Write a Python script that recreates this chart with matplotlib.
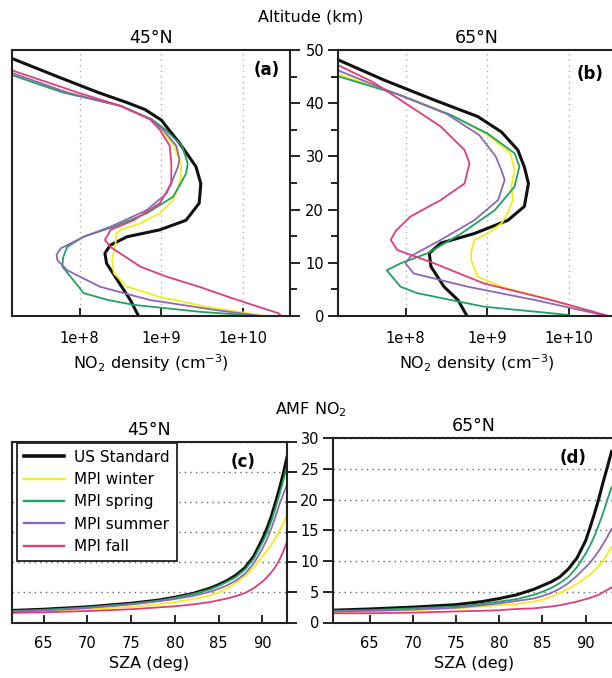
import numpy as np
import matplotlib
matplotlib.use("Agg")
import matplotlib.pyplot as plt
from matplotlib.ticker import MultipleLocator

plt.rcParams['font.family'] = ['DejaVu Sans']

# ---- NO2 profiles: altitude (km) and log10 density (cm-3) ----
# 45N
a_us_alt = [50, 48.2, 45, 42, 40, 38.8, 36.8, 35, 32.5, 28.1, 24.9, 21.2, 18, 16.2, 14.9, 13.3, 11.8, 9.9, 6.8, 3, 0]
a_us_log = [6.91, 7.21, 7.73, 8.23, 8.6, 8.8, 9.0, 9.09, 9.22, 9.42, 9.48, 9.46, 9.30, 8.98, 8.58, 8.375, 8.31, 8.33, 8.46, 8.62, 8.72]
a_win_alt = [50, 45.3, 42, 39.5, 37, 35, 32, 28.5, 26, 24, 21.8, 19.3, 17.4, 16.2, 15.5, 13.7, 10.5, 8, 5.5, 3.6, 1.75, 0.2, 0]
a_win_log = [6.4, 7.21, 7.85, 8.5, 8.85, 9.0, 9.15, 9.24, 9.24, 9.2, 9.14, 8.98, 8.74, 8.5, 8.45, 8.44, 8.40, 8.42, 8.58, 8.98, 9.54, 10.19, 10.27]
a_spr_alt = [50, 45.1, 42, 39.5, 37, 35, 32, 28.7, 26.8, 24.5, 22.4, 19.3, 16.8, 14.9, 13, 11, 9.3, 7.4, 4.3, 3.0, 2.1, 0.8, 0]
a_spr_log = [6.3, 7.21, 7.8, 8.5, 8.88, 9.05, 9.25, 9.32, 9.30, 9.22, 9.14, 8.82, 8.42, 8.05, 7.85, 7.80, 7.79, 7.89, 8.05, 8.35, 8.66, 9.46, 10.19]
a_sum_alt = [50, 45.5, 42, 39.5, 37, 35, 32, 29.5, 28, 25, 23, 19.9, 16.8, 14.9, 12.7, 11.5, 10.5, 8.6, 5.5, 3.0, 1.1, 0]
a_sum_log = [6.4, 7.21, 7.85, 8.5, 8.86, 9.02, 9.18, 9.22, 9.2, 9.12, 9.06, 8.82, 8.38, 8.05, 7.77, 7.72, 7.73, 7.85, 8.25, 8.86, 9.67, 10.22]
a_fal_alt = [50, 46, 42, 39.5, 37, 35, 32, 28.7, 24.9, 21.2, 18, 16.2, 14.3, 13, 9.3, 7.4, 5.5, 3.3, 0.5, 0]
a_fal_log = [6.43, 7.21, 7.98, 8.5, 8.86, 8.98, 9.1, 9.12, 9.12, 8.98, 8.66, 8.38, 8.31, 8.375, 8.74, 9.06, 9.46, 9.87, 10.43, 10.46]

# 65N
b_us_alt = [50, 48.2, 44.4, 40.6, 37.5, 34.6, 31.2, 28, 24.9, 20.6, 18, 15.5, 13.7, 11.8, 9.3, 5.5, 3, 0]
b_us_log = [6.85, 7.17, 7.73, 8.35, 8.88, 9.17, 9.37, 9.45, 9.50, 9.45, 9.25, 8.84, 8.43, 8.29, 8.31, 8.47, 8.64, 8.75]
b_win_alt = [50, 45.5, 41.5, 37.8, 34.3, 30.6, 27.5, 24.3, 21.8, 19.5, 17.4, 15.5, 14.3, 12, 10.5, 7.4, 5.5, 3, 0.2, 0]
b_win_log = [6.3, 7.17, 7.94, 8.55, 8.98, 9.28, 9.33, 9.29, 9.31, 9.25, 9.17, 9.0, 8.84, 8.8, 8.80, 8.88, 9.17, 9.78, 10.40, 10.45]
b_spr_alt = [50, 45.1, 41.5, 37.8, 34.3, 30.6, 28.1, 24.3, 19.9, 15.5, 11.8, 9.9, 8.6, 5.5, 4.3, 1.75, 0.2, 0]
b_spr_log = [6.2, 7.17, 7.94, 8.55, 9.0, 9.33, 9.39, 9.33, 9.09, 8.68, 8.27, 7.94, 7.77, 7.94, 8.14, 8.96, 9.99, 10.02]
b_sum_alt = [50, 46.2, 42, 38, 34, 30, 27.4, 25.6, 21.8, 18, 14.3, 11.2, 9.9, 8.0, 5.5, 3, 0.2, 0]
b_sum_log = [6.4, 7.17, 7.85, 8.5, 8.9, 9.1, 9.17, 9.21, 9.13, 8.84, 8.43, 8.06, 8.0, 8.10, 8.76, 9.58, 10.40, 10.45]
b_fal_alt = [50, 47.2, 44, 40.6, 35.6, 31.2, 28.7, 24.9, 21.8, 18.7, 16, 14.3, 12.4, 9.9, 6.1, 3.0, 0]
b_fal_log = [6.55, 7.17, 7.6, 7.94, 8.43, 8.72, 8.78, 8.72, 8.43, 8.06, 7.88, 7.82, 7.90, 8.35, 8.96, 9.78, 10.48]

# ---- AMF NO2 vs SZA ----
c_sza = [61.4, 65, 70, 75, 78, 80, 82, 84, 85, 86, 87, 88, 89, 90, 90.5, 91, 91.5, 92, 92.4, 92.8]
c_us = [2.0, 2.2, 2.6, 3.2, 3.7, 4.2, 4.8, 5.7, 6.3, 7.0, 7.9, 9.1, 11.0, 13.9, 15.6, 17.6, 20.0, 22.6, 24.9, 27.5]
c_spr = [1.9, 2.1, 2.5, 3.1, 3.6, 4.1, 4.7, 5.5, 6.1, 6.8, 7.6, 8.8, 10.6, 13.3, 14.9, 16.8, 19.1, 21.6, 23.7, 26.0]
c_sum = [1.8, 2.0, 2.4, 3.0, 3.5, 3.9, 4.4, 5.1, 5.6, 6.2, 7.0, 8.1, 9.8, 12.3, 13.8, 15.6, 17.7, 19.9, 21.4, 23.0]
c_win = [1.7, 1.9, 2.2, 2.6, 3.0, 3.4, 3.9, 4.5, 5.0, 5.7, 6.6, 7.7, 9.1, 11.0, 11.9, 12.9, 14.1, 15.4, 16.6, 18.0]
c_fal = [1.6, 1.7, 1.9, 2.2, 2.5, 2.7, 3.0, 3.4, 3.7, 4.0, 4.4, 4.9, 5.7, 6.8, 7.5, 8.3, 9.3, 10.6, 11.9, 13.4]

d_sza = [60.75, 65, 70, 75, 78, 80, 82, 84, 85, 86, 87, 88, 89, 90, 90.5, 91, 91.5, 92, 92.5, 93]
d_us = [2.0, 2.2, 2.5, 2.9, 3.4, 3.9, 4.5, 5.4, 6.0, 6.6, 7.4, 8.7, 10.5, 13.3, 15.4, 17.6, 20.0, 22.7, 25.2, 27.8]
d_spr = [1.9, 2.0, 2.3, 2.6, 3.0, 3.4, 3.8, 4.5, 5.0, 5.6, 6.4, 7.4, 9.0, 11.2, 12.5, 14.0, 15.8, 17.7, 19.9, 22.0]
d_sum = [1.8, 1.9, 2.1, 2.4, 2.8, 3.1, 3.5, 3.9, 4.3, 4.8, 5.5, 6.4, 7.6, 9.0, 9.7, 10.6, 11.6, 12.7, 13.9, 15.2]
d_win = [1.7, 1.8, 2.0, 2.3, 2.6, 2.8, 3.0, 3.4, 3.7, 4.2, 4.8, 5.5, 6.3, 7.3, 7.8, 8.4, 9.2, 10.0, 11.1, 12.3]
d_fal = [1.5, 1.5, 1.6, 1.8, 1.9, 2.0, 2.2, 2.3, 2.45, 2.6, 2.8, 3.1, 3.4, 3.8, 4.0, 4.25, 4.5, 4.9, 5.3, 5.7]

labels = ['US Standard', 'MPI winter', 'MPI spring', 'MPI summer', 'MPI fall']
colors = ['#111111', '#f2ee1c', '#1fa360', '#8c68b8', '#e23c7c']
widths = [2.2, 1.3, 1.3, 1.3, 1.3]

W, H = 612, 678


def pos(l, t, r, b):
    return [l / W, 1 - b / H, (r - l) / W, (b - t) / H]


def style(ax):
    for s in ax.spines.values():
        s.set_linewidth(1.5)
        s.set_color('#222222')


def profile_panel(ax, profiles, title, tag, tagpos, side):
    for (alt, logn), c, lw in zip(profiles, colors, widths):
        ax.plot(10 ** np.array(logn), alt, color=c, lw=lw)
    ax.set_xscale('log')
    ax.set_xlim(1.5e7, 3.7e10)
    ax.set_ylim(0, 50)
    ax.set_xticks([1e8, 1e9, 1e10])
    ax.set_xticklabels(['1e+8', '1e+9', '1e+10'])
    ax.xaxis.set_minor_locator(plt.NullLocator())
    ax.grid(axis='x', which='major', color='#b0b0b0', linestyle=(0, (1, 3)), lw=1)
    ax.tick_params(axis='x', direction='in', length=6, width=1.2, pad=11, labelsize=10.5)
    ax.yaxis.set_major_locator(MultipleLocator(10))
    ax.yaxis.set_minor_locator(MultipleLocator(5))
    if side == 'right':
        ax.yaxis.tick_right()
        ax.tick_params(axis='y', which='both', labelright=False)
    ax.tick_params(axis='y', which='major', direction='out', length=7, width=1.2, pad=3, labelsize=10.5)
    ax.tick_params(axis='y', which='minor', direction='out', length=5, width=1.2)
    ax.set_xlabel('NO$_2$ density (cm$^{-3}$)', fontsize=11.5, labelpad=4)
    ax.set_title(title, fontsize=12.5, pad=5)
    ax.text(tagpos[0], tagpos[1], tag, transform=ax.transAxes, ha='center', va='center',
            fontsize=12, fontweight='bold')
    style(ax)


def amf_panel(ax, sza, series, title, tag, tagx, side, ymax, xlim):
    lines = []
    for y, c, lw, lab in zip(series, colors, widths, labels):
        ln, = ax.plot(sza, y, color=c, lw=lw, label=lab)
        lines.append(ln)
    ax.set_xlim(*xlim)
    ax.set_ylim(0, ymax)
    ax.set_xticks([65, 70, 75, 80, 85, 90])
    ax.set_yticks([0, 5, 10, 15, 20, 25, 30])
    ax.grid(axis='y', color='#666666', linestyle=(0, (1, 3)), lw=1)
    ax.tick_params(axis='x', direction='in', length=6, width=1.2, pad=10, labelsize=10.5)
    if side == 'right':
        ax.yaxis.tick_right()
        ax.tick_params(axis='y', labelright=False)
    ax.tick_params(axis='y', direction='out', length=7, width=1.2, pad=3, labelsize=10.5)
    ax.set_xlabel('SZA (deg)', fontsize=11.5, labelpad=3)
    ax.set_title(title, fontsize=12.5, pad=5)
    ax.text(tagx, 0.89, tag, transform=ax.transAxes, ha='center', va='center',
            fontsize=12, fontweight='bold')
    style(ax)
    return lines


fig = plt.figure(figsize=(W / 100, H / 100), dpi=100)

ax_a = fig.add_axes(pos(12, 50, 290, 316))
ax_b = fig.add_axes(pos(338, 50, 616, 316))
ax_c = fig.add_axes(pos(12, 442, 287, 622.5))
ax_d = fig.add_axes(pos(333, 438, 615, 622.5))

profile_panel(ax_a, [(a_us_alt, a_us_log), (a_win_alt, a_win_log), (a_spr_alt, a_spr_log),
                     (a_sum_alt, a_sum_log), (a_fal_alt, a_fal_log)],
              '45°N', '(a)', (0.915, 0.925), 'right')
profile_panel(ax_b, [(b_us_alt, b_us_log), (b_win_alt, b_win_log), (b_spr_alt, b_spr_log),
                     (b_sum_alt, b_sum_log), (b_fal_alt, b_fal_log)],
              '65°N', '(b)', (0.905, 0.91), 'left')

lines = amf_panel(ax_c, c_sza, [c_us, c_win, c_spr, c_sum, c_fal], '45°N', '(c)', 0.84,
                  'right', 29.3, (61.4, 92.8))
amf_panel(ax_d, d_sza, [d_us, d_win, d_spr, d_sum, d_fal], '65°N', '(d)', 0.85,
          'left', 30, (60.75, 93.4))

# legend inside panel (c)
leg = ax_c.legend(lines, labels, loc='upper left', bbox_to_anchor=(5 / 275, 0.995),
                  borderaxespad=0, fontsize=11, frameon=True, fancybox=False,
                  framealpha=1, edgecolor='#222222', handlelength=2.6,
                  labelspacing=0.48, borderpad=0.45, handletextpad=0.7)
leg.get_frame().set_linewidth(1.3)
for h in leg.get_lines():
    h.set_linewidth(h.get_linewidth() + 0.4)

fig.text(311 / W, 1 - 17 / H, 'Altitude (km)', ha='center', va='center', fontsize=11.5)
fig.text(311 / W, 1 - 410 / H, 'AMF NO$_2$', ha='center', va='center', fontsize=11.5)

fig.savefig('out.png', dpi=100)
